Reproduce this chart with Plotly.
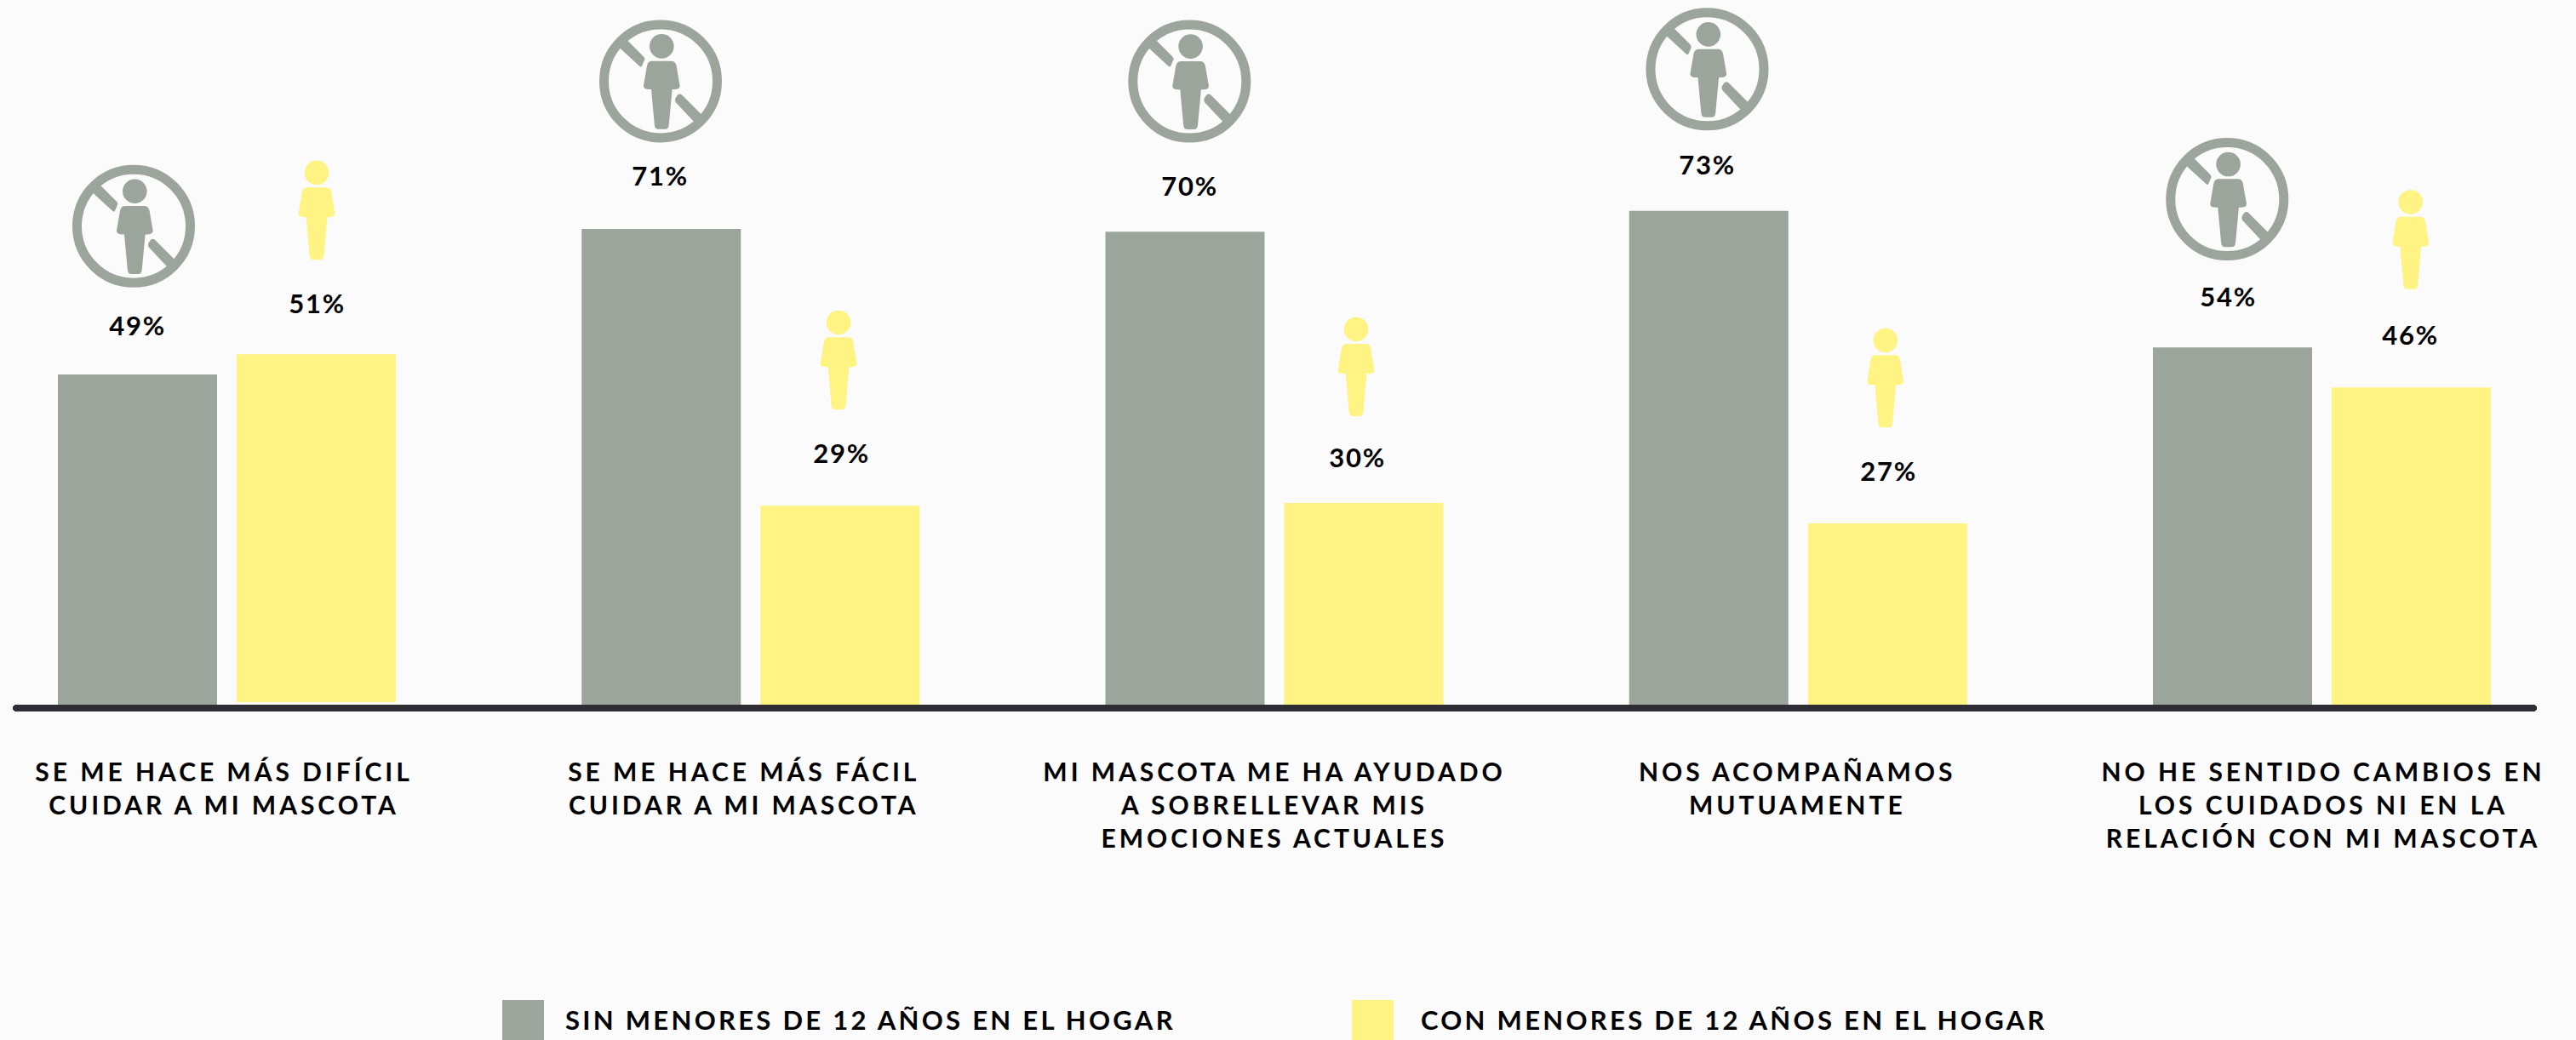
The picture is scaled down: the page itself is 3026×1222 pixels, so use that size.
import plotly.graph_objects as go

# ---------- data ----------
categories = [
    "SE ME HACE MÁS DIFÍCIL<br>CUIDAR A MI MASCOTA",
    "SE ME HACE MÁS FÁCIL<br>CUIDAR A MI MASCOTA",
    "MI MASCOTA ME HA AYUDADO<br>A SOBRELLEVAR MIS<br>EMOCIONES ACTUALES",
    "NOS ACOMPAÑAMOS<br>MUTUAMENTE",
    "NO HE SENTIDO CAMBIOS EN<br>LOS CUIDADOS NI EN LA<br>RELACIÓN CON MI MASCOTA",
]
group_index = [0, 1, 2, 3, 4]
series_sin = "SIN MENORES DE 12 AÑOS EN EL HOGAR"
series_con = "CON MENORES DE 12 AÑOS EN EL HOGAR"
# printed labels
labels_sin = ["49%", "71%", "70%", "73%", "54%"]
labels_con = ["51%", "29%", "30%", "27%", "46%"]
# bar lengths as drawn in the picture
values_sin = [48.8, 70.3, 69.9, 73.0, 52.8]
values_con = [51.42, 29.4, 29.8, 26.8, 46.9]
base_con = [0.38, 0, 0, 0, 0]  # the first yellow bar floats just above the baseline

# ---------- style / layout constants ----------
W, H = 3026, 1222
M_L, M_R, M_T, M_B = 19, 50, 0, 394
GREY, YELLOW, BG, LINE = "#9CA59C", "#FFF383", "#FBFBFB", "#2D2D33"
FONT = "Lato"
PX_PER_X = 615.25
PX_PER_Y = 7.95
SLOT = 210 / PX_PER_X
plot_w, plot_h = W - M_L - M_R, H - M_T - M_B
X0 = (M_L - 266.5) / PX_PER_X
Y_TOP = plot_h / PX_PER_Y

tick_shift_px = [-3.5, -8, 0, -1, 1.5]
label_dx_sin = [-0.7, -2.75, 4, -2.75, -5.8]
label_dx_con = [-0.2, 1, -9, 0, -2.5]
label_up_sin = [56.7, 61.7, 53.7, 54, 59.7]
label_up_con = [59.3, 61.7, 53, 61, 60.7]
ring_dx = [-4.5, -0.75, 5.3, -1.75, -6.2]
ring_up = [174.3, 173.7, 176.7, 166.3, 174.2]
head_dx = [0.5, -1.75, -9, -2.5, -0.8]
head_up = [213.3, 215.3, 204.3, 215, 217.7]


def body(arm, foot):
    return [("M", -11, 17.3), ("L", 11, 17.3), ("Q", 16.5, 17.3, 17.3, 23), ("L", 21.3, arm - 4.7),
            ("Q", 21.8, arm, 15, arm), ("L", 12.3, arm), ("L", 8.5, foot - 5.5), ("Q", 8, foot, 4, foot),
            ("L", -4, foot), ("Q", -8, foot, -8.5, foot - 5.5), ("L", -12.3, arm), ("L", -15, arm),
            ("Q", -21.8, arm, -21.3, arm - 4.7), ("L", -17.3, 23), ("Q", -16.5, 17.3, -11, 17.3), ("Z",)]


BODY_GREY = body(50.7, 97.3)
BODY_YELLOW = body(52.3, 102.3)
SLASH_A = [("M", -41, -50), ("L", -20, -29), ("Q", -18, -27, -19, -25), ("L", -22, -18),
           ("Q", -23, -16, -25, -18), ("L", -50, -41), ("Z",)]
SLASH_B = [("M", 50, 41), ("L", 25, 16), ("Q", 22.5, 14, 20, 16), ("L", 18, 19),
           ("Q", 16, 22, 18, 25), ("L", 41, 49.5), ("Z",)]


def path(cmds, cx, cy):
    """Build a pixel path: cx, cy = offset from anchor (cy positive = up); y in cmds grows downward."""
    out = []
    for c in cmds:
        nums = c[1:]
        pts = []
        for k in range(0, len(nums), 2):
            pts.append(f"{nums[k] + cx:.2f},{cy - nums[k + 1]:.2f}")
        out.append(c[0] + " ".join(pts))
    return " ".join(out)


def anchored(xa, ya, **kw):
    return dict(xref="x", yref="y", xsizemode="pixel", ysizemode="pixel",
                xanchor=xa, yanchor=ya, layer="above", **kw)


def person(xa, ya, hx, hy, color, cmds, shapes):
    r = 14.3
    shapes.append(anchored(xa, ya, type="circle", x0=hx - r, x1=hx + r, y0=hy - r, y1=hy + r,
                           fillcolor=color, line=dict(width=0)))
    shapes.append(anchored(xa, ya, type="path", path=path(cmds, hx, hy),
                           fillcolor=color, line=dict(width=0)))


shapes, annotations = [], []
for i in group_index:
    xg, xy = i - SLOT / 2, i + SLOT / 2
    top_g, top_y = values_sin[i], values_con[i] + base_con[i]
    # grey icon
    cx, cy = ring_dx[i], ring_up[i]
    shapes.append(anchored(xg, top_g, type="circle", x0=cx - 66.5, x1=cx + 66.5,
                           y0=cy - 66.5, y1=cy + 66.5, fillcolor="rgba(0,0,0,0)",
                           line=dict(width=11, color=GREY)))
    shapes.append(anchored(xg, top_g, type="path", path=path(SLASH_A, cx, cy),
                           fillcolor=GREY, line=dict(width=0)))
    shapes.append(anchored(xg, top_g, type="path", path=path(SLASH_B, cx, cy),
                           fillcolor=GREY, line=dict(width=0)))
    person(xg, top_g, cx + 1.3, cy + 41, GREY, BODY_GREY, shapes)
    # yellow icon
    person(xy, top_y, head_dx[i], head_up[i], YELLOW, BODY_YELLOW, shapes)
    # value labels
    for x, v, t, dx, up in [(xg, top_g, labels_sin[i], label_dx_sin[i], label_up_sin[i]),
                            (xy, top_y, labels_con[i], label_dx_con[i], label_up_con[i])]:
        annotations.append(dict(x=x, y=v, xref="x", yref="y", text=t, showarrow=False,
                                xanchor="center", yanchor="middle", xshift=dx + 1, yshift=up + 1,
                                font=dict(family=FONT, size=31, color="#000000", weight=700)))


def px_x(px):
    return (px - M_L) / plot_w


def px_y(py):
    return (H - M_B - py) / plot_h


# legend swatches and texts
for x0, x1, color, tx, name in [(590, 639, GREY, 1022, series_sin), (1588, 1637, YELLOW, 2037, series_con)]:
    shapes.append(dict(type="rect", xref="paper", yref="paper", x0=px_x(x0), x1=px_x(x1),
                       y0=px_y(1222), y1=px_y(1175), fillcolor=color, line=dict(width=0)))
    annotations.append(dict(x=px_x(tx), y=px_y(1198), xref="paper", yref="paper", text=name,
                            showarrow=False, xanchor="center", yanchor="middle",
                            font=dict(family=FONT, size=31, color="#000000", weight=700)))

fig = go.Figure()
fig.add_bar(name=series_sin, x=group_index, y=values_sin, marker=dict(color=GREY, line=dict(width=0)))
fig.add_bar(name=series_con, x=group_index, y=values_con, base=base_con,
            marker=dict(color=YELLOW, line=dict(width=0)))

fig.update_layout(
    width=W, height=H, autosize=False,
    margin=dict(l=M_L, r=M_R, t=M_T, b=M_B, pad=0),
    paper_bgcolor=BG, plot_bgcolor=BG,
    barmode="group", bargap=1 - 2 * SLOT, bargroupgap=1 - 187 / 210,
    showlegend=False, shapes=shapes, annotations=annotations,
    font=dict(family=FONT),
    xaxis=dict(
        range=[X0, X0 + plot_w / PX_PER_X], tickmode="array",
        tickvals=[i + s / PX_PER_X for i, s in zip(group_index, tick_shift_px)],
        ticktext=categories, tickangle=0, ticks="", ticklabelstandoff=46,
        tickfont=dict(family=FONT, size=30, color="#000000", weight=700),
        showgrid=False, zeroline=False, showline=True, linecolor=LINE, linewidth=8,
    ),
    yaxis=dict(range=[0, Y_TOP], visible=False, showgrid=False, zeroline=False),
)

post = """
var s=document.createElement('style');
s.textContent='body{margin:0;background:#FBFBFB} text{letter-spacing:3.3px} .xtick text{letter-spacing:3.95px} text[data-unformatted$="%"]{letter-spacing:1.8px} .xlines-above{stroke-linecap:round}';
document.head.appendChild(s);
Plotly.redraw(document.getElementById('{plot_id}'));
"""
fig.write_html("out.html", post_script=post, config=dict(displayModeBar=False))
